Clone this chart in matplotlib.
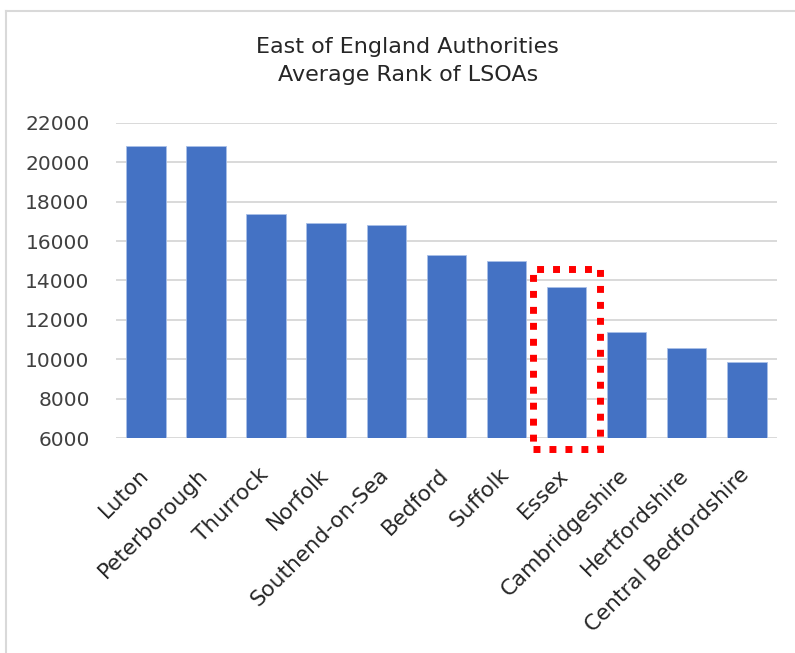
import matplotlib
matplotlib.use("Agg")
import matplotlib.pyplot as plt
from matplotlib.patches import Rectangle
from matplotlib.lines import Line2D
from matplotlib.transforms import ScaledTranslation

plt.rcParams['font.family'] = ['DejaVu Sans']

authorities = ["Luton", "Peterborough", "Thurrock", "Norfolk", "Southend-on-Sea",
               "Bedford", "Suffolk", "Essex", "Cambridgeshire", "Hertfordshire",
               "Central Bedfordshire"]
avg_rank = [20820, 20830, 17390, 16930, 16810, 15280, 14970, 13660, 11410, 10560, 9850]
y_ticks = [6000, 8000, 10000, 12000, 14000, 16000, 18000, 20000, 22000]
highlight = "Essex"

fig = plt.figure(figsize=(7.95, 6.53), dpi=100)
ax = fig.add_axes([0.146, 0.3288, 0.831, 0.4833])

x = list(range(len(authorities)))
ax.bar(x, avg_rank, width=0.66, color="#4472C4", edgecolor="#A9C0E8",
       linewidth=0.6, zorder=3)

ax.set_ylim(6000, 22000)
ax.set_xlim(-0.5, len(authorities) - 0.5)
ax.set_yticks(y_ticks)
ax.set_yticklabels([str(v) for v in y_ticks], fontsize=14.5, color="#404040")
ax.set_xticks(x)
ax.set_xticklabels(authorities, rotation=45, ha="right", va="top",
                   rotation_mode="anchor", fontsize=15.5, color="#262626")
ax.tick_params(axis="both", length=0)
ax.tick_params(axis="y", pad=19)
ax.tick_params(axis="x", pad=19)
shift = ScaledTranslation(-8 / 100, 0, fig.dpi_scale_trans)
for lbl in ax.get_xticklabels():
    lbl.set_transform(lbl.get_transform() + shift)
ax.grid(axis="y", color="#D9D9D9", linewidth=1.4, zorder=0)
for s in ax.spines.values():
    s.set_visible(False)

# dotted red frame around the highlighted authority
i = authorities.index(highlight)
frame = Rectangle((i - 0.55, 5450), 1.1, 14590 - 5450, fill=False,
                  edgecolor="#FF0000", linewidth=5.0, linestyle=(0, (1, 1.3)),
                  capstyle="butt", clip_on=False, zorder=5)
ax.add_patch(frame)

fig.text(0.513, 0.928, "East of England Authorities", ha="center", va="center",
         fontsize=16, color="#262626")
fig.text(0.513, 0.885, "Average Rank of LSOAs", ha="center", va="center",
         fontsize=16, color="#262626")

# chart area outline
fig.add_artist(Line2D([6 / 795, 1.0], [1 - 11 / 653, 1 - 11 / 653],
                      transform=fig.transFigure, color="#D9D9D9", linewidth=1.5))
fig.add_artist(Line2D([6 / 795, 6 / 795], [0, 1 - 11 / 653],
                      transform=fig.transFigure, color="#D9D9D9", linewidth=1.5))

fig.savefig("out.png", dpi=100, facecolor="white")
